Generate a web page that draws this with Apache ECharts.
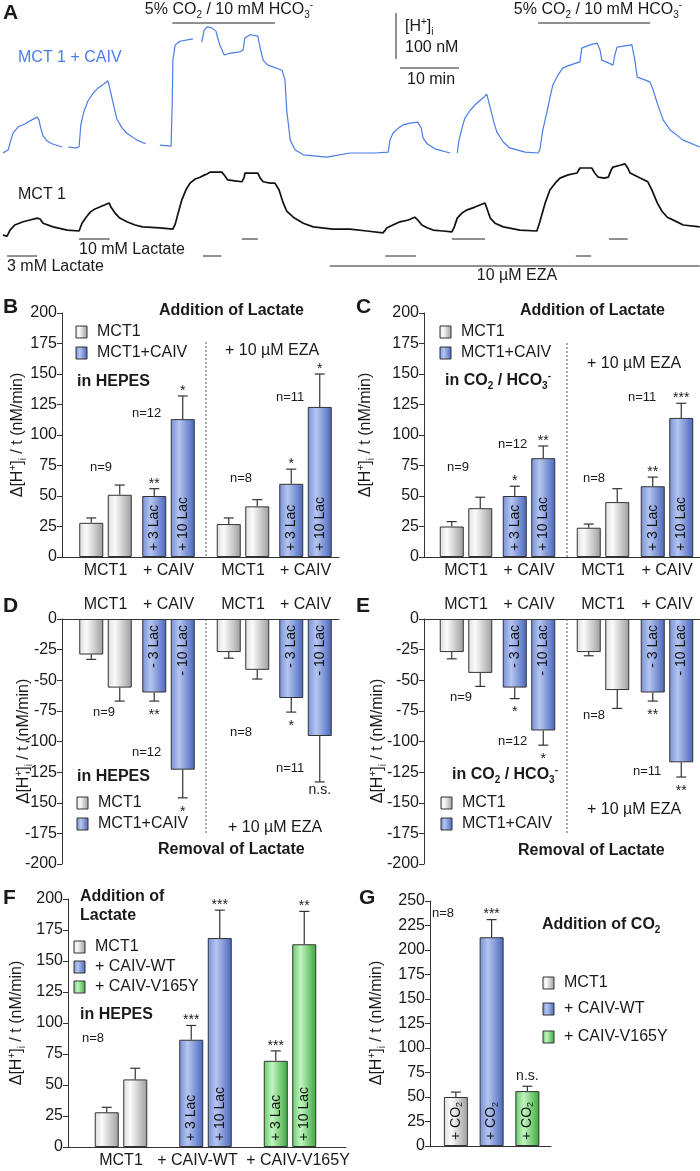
<!DOCTYPE html>
<html><head><meta charset="utf-8">
<script src="https://cdn.jsdelivr.net/npm/echarts/dist/echarts.min.js"></script>
<style>html,body{margin:0;padding:0;background:#fff}#c{width:700px;height:1171px}</style>
</head><body><div id="c"></div>
<script>
// ================= DATA =================
// Panel A traces: [time (min), Δ[H+]i (nM) relative to the trace's own baseline]; each inner array is a recorded segment
const traceCAIV = [
  [[0.5,0],[1.4,7],[1.7,22],[2.2,43],[3.1,57],[4.2,63],[5.4,72],[6.3,78],[6.6,72],[6.9,54],[7.3,37],[8.0,26],[8.8,20],[10.5,13]],
  [[11.5,13],[12.9,11],[13.4,13],[13.7,61],[14.2,89],[14.9,113],[15.8,130],[16.6,141],[17.6,150],[18.3,157],[18.6,141],[19.2,107],[19.8,74],[20.7,54],[21.5,43],[23.2,28],[24.7,20]],
  [[27.1,17],[29.0,15],[29.2,115],[29.3,202],[29.7,235],[30.5,243],[32.7,248]],
  [[34.2,241],[34.6,267],[35.1,274],[35.9,272],[36.6,265],[36.9,250],[37.3,233],[38.0,213],[39.0,217],[40.7,220],[41.2,224],[41.5,250],[42.4,257],[43.7,254],[44.1,228],[44.6,202],[45.4,191],[47.8,180],[48.3,159],[48.6,93],[49.2,28],[50.0,7],[51.4,-4],[55.4,-9],[59.3,0],[63.6,0],[65.8,2],[66.1,28],[66.6,43],[67.5,54],[68.3,61],[69.5,65],[70.8,67],[71.4,54],[71.7,33],[72.4,20],[73.7,9],[76.3,0]],
  [[77.5,0],[77.8,28],[78.3,54],[78.8,76],[79.7,93],[80.7,107],[81.9,120],[82.5,128],[83.1,98],[83.7,67],[84.2,46],[85.3,24],[86.4,11],[89.0,2],[91.2,0],[91.5,7],[92.0,50],[92.7,89],[93.2,120],[93.7,148],[94.6,170],[95.4,185],[96.6,191],[98.3,198],[98.6,228],[100.0,235],[101.2,239],[101.7,224],[102.0,202],[103.1,196],[103.9,191],[104.2,213],[104.6,230],[105.9,233],[107.1,235],[107.6,202],[108.0,165],[109.3,159],[110.2,154],[110.7,137],[111.5,104],[112.4,72],[113.6,50],[115.8,28],[118.6,13]]
];
const traceMCT1 = [
  [[0.5,-9],[1.2,-11],[1.7,2],[2.5,13],[3.9,20],[5.1,24],[6.3,28],[6.8,26],[7.3,17],[9.0,9],[11.4,2],[13.4,0],[13.6,4],[13.9,17],[14.6,30],[15.3,41],[16.1,48],[16.9,52],[17.8,57],[18.5,61],[18.8,52],[19.5,39],[20.3,28],[21.5,20],[22.9,13],[24.2,9],[27.1,7],[29.3,4],[29.7,15],[30.2,39],[30.8,67],[31.5,89],[32.2,104],[33.1,113],[33.9,117],[34.7,122],[35.1,124],[35.6,128],[36.9,128],[37.6,128],[38.1,120],[38.6,111],[39.8,109],[41.0,107],[41.4,117],[41.5,126],[42.7,126],[43.7,126],[44.1,115],[44.6,107],[45.8,104],[46.6,104],[47.3,89],[48.0,61],[48.6,43],[49.7,30],[51.4,17],[53.1,9],[56.4,4],[59.3,4],[62.2,0],[64.9,-4],[65.3,2],[65.6,7],[66.6,13],[67.8,20],[69.2,24],[70.3,30],[70.8,24],[71.5,13],[72.4,7],[73.4,2],[75.1,0],[76.6,-2],[77.0,9],[77.5,28],[78.3,39],[79.2,46],[80.5,52],[82.2,61],[82.5,50],[83.1,28],[83.9,17],[85.3,9],[88.1,2],[91.0,0],[91.5,20],[92.4,61],[93.2,89],[94.1,104],[94.9,115],[96.3,122],[97.8,126],[98.3,137],[99.3,137],[100.3,137],[100.8,126],[101.4,117],[102.4,115],[103.1,117],[103.6,133],[103.9,139],[105.1,143],[105.9,146],[106.4,137],[106.8,126],[108.5,115],[109.8,107],[110.5,89],[111.4,61],[112.2,43],[113.1,30],[114.4,22],[115.8,13],[118.6,9]]
];
// application periods [start, end] in min
const lactate3mM = [[1.2,6.3],[34.4,37.5],[65.3,70.5],[97.6,100.2]];
const lactate10mM = [[13.4,18.6],[41.0,43.7],[76.6,82.2],[103.2,106.4]];
const co2Periods = [[29.2,46.6],[91.2,110.2]];
const ezaPeriod = [[55.9,118.6]];
const scaleNM = 100, scaleMin = 10;

// Panels B–E: categories and rates Δ[H+]i/t (nM/min) for 3 mM / 10 mM lactate
const pairCats = ['MCT1', '+ CAIV'];
const addHepes3 = [28, 50],      addHepes3Err = [4, 6],        addHepes3Sig = ['', '**'];
const addHepes10 = [51, 113],    addHepes10Err = [8, 19],      addHepes10Sig = ['', '*'];
const addHepesEza3 = [27, 60],   addHepesEza3Err = [5, 12],    addHepesEza3Sig = ['', '*'];
const addHepesEza10 = [41.5, 123], addHepesEza10Err = [5.5, 27], addHepesEza10Sig = ['', '*'];
const addCo2_3 = [25, 50],       addCo2_3Err = [4, 8],         addCo2_3Sig = ['', '*'];
const addCo2_10 = [40, 81],      addCo2_10Err = [9, 10],       addCo2_10Sig = ['', '**'];
const addCo2Eza3 = [24, 58],     addCo2Eza3Err = [3, 7.5],     addCo2Eza3Sig = ['', '**'];
const addCo2Eza10 = [45, 114],   addCo2Eza10Err = [11, 12],    addCo2Eza10Sig = ['', '***'];
const remHepes3 = [-29, -60],    remHepes3Err = [4, 7],        remHepes3Sig = ['', '**'];
const remHepes10 = [-56, -123],  remHepes10Err = [11, 23],     remHepes10Sig = ['', '*'];
const remHepesEza3 = [-27, -64.5], remHepesEza3Err = [5, 11.5], remHepesEza3Sig = ['', '*'];
const remHepesEza10 = [-41.5, -95.5], remHepesEza10Err = [7.5, 37.5], remHepesEza10Sig = ['', 'n.s.'];
const remCo2_3 = [-27, -56],     remCo2_3Err = [5.5, 9],       remCo2_3Sig = ['', '*'];
const remCo2_10 = [-44, -91],    remCo2_10Err = [11, 12],      remCo2_10Sig = ['', '*'];
const remCo2Eza3 = [-27, -60],   remCo2Eza3Err = [3, 7],       remCo2Eza3Sig = ['', '**'];
const remCo2Eza10 = [-58, -117], remCo2Eza10Err = [15, 12],    remCo2Eza10Sig = ['', '**'];
const addLabels3 = ['', '+ 3 Lac'], addLabels10 = ['', '+ 10 Lac'];
const remLabels3 = ['', '- 3 Lac'], remLabels10 = ['', '- 10 Lac'];
// Panel F
const mutCats = ['MCT1', '+ CAIV-WT', '+ CAIV-V165Y'];
const mut3 = [28, 86.5, 69.5],     mut3Err = [4, 11.5, 8],      mut3Sig = ['', '***', '***'];
const mut10 = [54.5, 168.5, 163.5], mut10Err = [9, 22.5, 26.5], mut10Sig = ['', '***', '**'];
const mutLabels3 = ['', '+ 3 Lac', '+ 3 Lac'], mutLabels10 = ['', '+ 10 Lac', '+ 10 Lac'];
// Panel G
const co2Rate = [50, 213, 56], co2Err = [5, 18, 5], co2Sig = ['', '***', 'n.s.'];
const co2Labels = ['{t|+ CO}{s|2}', '{t|+ CO}{s|2}', '{t|+ CO}{s|2}'];
const yTicksPos = [0, 200], yTicksNeg = [-200, 0], yTicksG = [0, 250], yStep = 25;

// ================= STYLE / LAYOUT =================
const FONT = '"Liberation Sans", Arial, Helvetica, sans-serif';
const INK = '#1a1a1a', AXIS = '#333', TRACE_BLUE = '#4a7de6';
function grad(stops){ return new echarts.graphic.LinearGradient(0,0,1,0, stops.map(s=>({offset:s[0], color:s[1]}))); }
const FILL = {
  gray: grad([[0,'#dedede'],[0.3,'#fbfbfb'],[1,'#9d9d9d']]),
  blue: grad([[0,'#7690d8'],[0.35,'#b6c5ef'],[1,'#4866bd']]),
  green: grad([[0,'#66cc66'],[0.35,'#c2f4c2'],[1,'#3aa83a']])
};
const pairFills = ['gray','blue'], triFills = ['gray','blue','green'];
const F_LABEL_PAD = [[0,0,0,0],[0,16,0,0],[0,0,0,16]];
const BW = 24, GAP = 4.5;
const A = {left:0, top:0, width:700, height:290, pxPerMin:5.9, pxPerNM:0.46, caivBase:153, mct1Base:231,
           rows:{co2:23, lac10:239, lac3:256, eza:266}, scaleX:396, scaleTop:13, scaleHY:68, scaleHX:400};
const pxToMin = px => px / A.pxPerMin;
const pxToNM = py => (A.height - py) / A.pxPerNM;

const grids = [], xAxes = [], yAxes = [], series = [], graphics = [];

function addGrid(rect, xa, ya){
  grids.push(Object.assign({outerBoundsMode:'none', containLabel:false}, rect));
  const gi = grids.length - 1;
  xa.gridIndex = gi; ya.gridIndex = gi; xAxes.push(xa); yAxes.push(ya);
  return gi;
}
function frame(rect, yr, xTop){
  addGrid(rect,
    {type:'value', min:0, max:1, position: xTop ? 'top' : 'bottom',
     axisLine:{show:true, onZero:false, lineStyle:{color:AXIS, width:1}}, axisTick:{show:false}, axisLabel:{show:false}, splitLine:{show:false}},
    {type:'value', min:yr[0], max:yr[1], interval:yStep,
     axisLine:{show:true, onZero:false, lineStyle:{color:AXIS, width:1}}, axisTick:{show:true, length:5, lineStyle:{color:AXIS}},
     axisLabel:{fontSize:16, fontFamily:FONT, color:INK, margin:5}, splitLine:{show:false}});
}
function barGrid(rect, cats, yr, xTop, showLabels){
  return addGrid(rect,
    {type:'category', data:cats, position: xTop ? 'top' : 'bottom',
     axisLine:{show:false, onZero:false}, axisTick:{show:false},
     axisLabel:{show:showLabels !== false, interval:0, fontSize:16, fontFamily:FONT, color:INK, margin:6}, splitLine:{show:false}},
    {type:'value', min:yr[0], max:yr[1], show:false});
}
function errRender(offset, sigs){
  return function(params, api){
    const i = params.dataIndex, v = api.value(1), e = api.value(2);
    const dir = v >= 0 ? 1 : -1;
    const p0 = api.coord([i, v]), p1 = api.coord([i, v + dir * e]);
    const x = p0[0] + offset;
    const ch = [
      {type:'line', shape:{x1:x, y1:p0[1], x2:x, y2:p1[1]}, style:{stroke:AXIS, lineWidth:1.2}},
      {type:'line', shape:{x1:x-5, y1:p1[1], x2:x+5, y2:p1[1]}, style:{stroke:AXIS, lineWidth:1.2}}
    ];
    const s = sigs[i];
    if (s) {
      const star = s.indexOf('*') >= 0;
      const dy = dir > 0 ? (star ? -5 : -10) : (star ? 14 : 8);
      ch.push({type:'text', style:{text:s, x:x, y:p1[1] + dy, align:'center', verticalAlign:'middle', textAlign:'center', textVerticalAlign:'middle',
        font:'14px ' + FONT, fill:INK}});
    }
    return {type:'group', children:ch};
  };
}
function addBars(gi, sets, fills){
  const n = sets.length;
  sets.forEach((s, k) => {
    const neg = s.vals.some(v => v < 0);
    series.push({type:'bar', xAxisIndex:gi, yAxisIndex:gi, barWidth:BW, barGap:(GAP/BW*100)+'%', silent:true, animation:false,
      data: s.vals.map((v, i) => ({value:v,
        itemStyle:{color:FILL[fills[i]], borderColor:AXIS, borderWidth:1},
        label:{show: !!s.labels[i], formatter: s.labels[i] || '', rotate:90,
          position: neg ? 'insideTop' : 'insideBottom', align: neg ? 'right' : 'left', verticalAlign:'middle', distance:6,
          fontSize:14, fontFamily:FONT, color:'#111',
          rich:{t:{fontSize:14, fontFamily:FONT, color:'#111', lineHeight:16}, s:{fontSize:9, fontFamily:FONT, color:'#111', lineHeight:9, verticalAlign:'bottom'}}}
      }))});
    const off = (k - (n - 1) / 2) * (BW + GAP);
    series.push({type:'custom', xAxisIndex:gi, yAxisIndex:gi, silent:true, animation:false, z:5,
      renderItem: errRender(off, s.sig), data: s.vals.map((v, i) => [i, v, s.err[i]])});
  });
}

// ---------- Panel A ----------
addGrid({left:A.left, top:A.top, width:A.width, height:A.height},
  {type:'value', min:0, max:A.width / A.pxPerMin, show:false},
  {type:'value', min:0, max:A.height / A.pxPerNM, show:false});
function traceData(segs, basePx){
  const off = pxToNM(basePx), out = [];
  segs.forEach((seg, k) => {
    if (k) out.push([seg[0][0], '-']);
    seg.forEach(p => out.push([p[0], p[1] + off]));
  });
  return out;
}
function periodData(periods, rowPx){
  const y = pxToNM(rowPx), out = [];
  periods.forEach(p => { out.push([p[0], y], [p[1], y], [p[1], '-']); });
  return out;
}
const lineBase = {type:'line', xAxisIndex:0, yAxisIndex:0, symbol:'none', showSymbol:false, silent:true, animation:false, connectNulls:false};
series.push(Object.assign({}, lineBase, {data:traceData(traceCAIV, A.caivBase), lineStyle:{color:TRACE_BLUE, width:1.2}}));
series.push(Object.assign({}, lineBase, {data:traceData(traceMCT1, A.mct1Base), lineStyle:{color:'#111', width:1.7}}));
[[lactate3mM, A.rows.lac3], [lactate10mM, A.rows.lac10], [co2Periods, A.rows.co2], [ezaPeriod, A.rows.eza]].forEach(r => {
  series.push(Object.assign({}, lineBase, {data:periodData(r[0], r[1]), lineStyle:{color:'#222', width:1}}));
});
// scale bars
const sx = pxToMin(A.scaleX), sTop = pxToNM(A.scaleTop);
series.push(Object.assign({}, lineBase, {data:[[sx, sTop], [sx, sTop - scaleNM]], lineStyle:{color:'#222', width:1}}));
const hx = pxToMin(A.scaleHX), hy = pxToNM(A.scaleHY);
series.push(Object.assign({}, lineBase, {data:[[hx, hy], [hx + scaleMin, hy]], lineStyle:{color:'#222', width:1}}));

// ---------- Panels B–G ----------
frame({left:62, top:313, width:277, height:244}, yTicksPos, false);   // B
frame({left:424, top:313, width:276, height:244}, yTicksPos, false);  // C
frame({left:62, top:619, width:277, height:245}, yTicksNeg, true);    // D
frame({left:424, top:619, width:276, height:245}, yTicksNeg, true);   // E
frame({left:68, top:899, width:278, height:248}, yTicksPos, false);   // F
frame({left:430, top:901, width:121, height:245}, yTicksG, false);    // G

const halves = {
  BL:{left:74, top:313, width:126, height:244}, BR:{left:211.75, top:313, width:125, height:244},
  CL:{left:434.5, top:313, width:126, height:244}, CR:{left:571, top:313, width:128, height:244},
  DL:{left:74, top:619, width:126, height:245}, DR:{left:211.75, top:619, width:125, height:245},
  EL:{left:434.5, top:619, width:126, height:245}, ER:{left:571, top:619, width:128, height:245}
};
addBars(barGrid(halves.BL, pairCats, yTicksPos, false), [
  {vals:addHepes3, err:addHepes3Err, sig:addHepes3Sig, labels:addLabels3},
  {vals:addHepes10, err:addHepes10Err, sig:addHepes10Sig, labels:addLabels10}], pairFills);
addBars(barGrid(halves.BR, pairCats, yTicksPos, false), [
  {vals:addHepesEza3, err:addHepesEza3Err, sig:addHepesEza3Sig, labels:addLabels3},
  {vals:addHepesEza10, err:addHepesEza10Err, sig:addHepesEza10Sig, labels:addLabels10}], pairFills);
addBars(barGrid(halves.CL, pairCats, yTicksPos, false), [
  {vals:addCo2_3, err:addCo2_3Err, sig:addCo2_3Sig, labels:addLabels3},
  {vals:addCo2_10, err:addCo2_10Err, sig:addCo2_10Sig, labels:addLabels10}], pairFills);
addBars(barGrid(halves.CR, pairCats, yTicksPos, false), [
  {vals:addCo2Eza3, err:addCo2Eza3Err, sig:addCo2Eza3Sig, labels:addLabels3},
  {vals:addCo2Eza10, err:addCo2Eza10Err, sig:addCo2Eza10Sig, labels:addLabels10}], pairFills);
addBars(barGrid(halves.DL, pairCats, yTicksNeg, true), [
  {vals:remHepes3, err:remHepes3Err, sig:remHepes3Sig, labels:remLabels3},
  {vals:remHepes10, err:remHepes10Err, sig:remHepes10Sig, labels:remLabels10}], pairFills);
addBars(barGrid(halves.DR, pairCats, yTicksNeg, true), [
  {vals:remHepesEza3, err:remHepesEza3Err, sig:remHepesEza3Sig, labels:remLabels3},
  {vals:remHepesEza10, err:remHepesEza10Err, sig:remHepesEza10Sig, labels:remLabels10}], pairFills);
addBars(barGrid(halves.EL, pairCats, yTicksNeg, true), [
  {vals:remCo2_3, err:remCo2_3Err, sig:remCo2_3Sig, labels:remLabels3},
  {vals:remCo2_10, err:remCo2_10Err, sig:remCo2_10Sig, labels:remLabels10}], pairFills);
addBars(barGrid(halves.ER, pairCats, yTicksNeg, true), [
  {vals:remCo2Eza3, err:remCo2Eza3Err, sig:remCo2Eza3Sig, labels:remLabels3},
  {vals:remCo2Eza10, err:remCo2Eza10Err, sig:remCo2Eza10Sig, labels:remLabels10}], pairFills);
const fCats = mutCats.map((c, i) => ({value:c, textStyle:{padding:F_LABEL_PAD[i]}}));
addBars(barGrid({left:78.75, top:899, width:253.5, height:248}, fCats, yTicksPos, false), [
  {vals:mut3, err:mut3Err, sig:mut3Sig, labels:mutLabels3},
  {vals:mut10, err:mut10Err, sig:mut10Sig, labels:mutLabels10}], triFills);
addBars(barGrid({left:438, top:901, width:107.25, height:245}, mutCats, yTicksG, false, false), [
  {vals:co2Rate, err:co2Err, sig:co2Sig, labels:co2Labels}], triFills);

// ---------- text / decorations ----------
function richSet(size, bold, color){
  const b = {fontSize:size, fontFamily:FONT, fontWeight: bold ? 'bold' : 'normal', fill:color, lineHeight:size + 4};
  return {a:b,
    sup:{fontSize:Math.round(size*0.62), fontFamily:FONT, fontWeight:b.fontWeight, fill:color, lineHeight:10, verticalAlign:'top'},
    sub:{fontSize:Math.round(size*0.62), fontFamily:FONT, fontWeight:b.fontWeight, fill:color, lineHeight:10, verticalAlign:'bottom'}};
}
function txt(x, y, text, o){
  o = o || {};
  const size = o.size || 16, color = o.color || INK;
  const st = {text:text, x:0, y:0, font:(o.bold ? 'bold ' : '') + size + 'px ' + FONT, fill:color,
    align:o.align || 'left', textAlign:o.align || 'left', verticalAlign:'middle', textVerticalAlign:'middle'};
  if (o.rich) st.rich = richSet(size, o.bold, color);
  graphics.push({type:'text', x:x, y:y, rotation:o.rot || 0, z:100, silent:true, style:st});
}
function legendItem(x, y, fill, label){
  graphics.push({type:'rect', shape:{x:x, y:y - 6, width:11, height:12}, z:100, silent:true,
    style:{fill:FILL[fill], stroke:AXIS, lineWidth:1}});
  txt(x + 21, y, label);
}
function dashed(x, y1, y2){
  graphics.push({type:'line', shape:{x1:x, y1:y1, x2:x, y2:y2}, z:100, silent:true,
    style:{stroke:'#555', lineWidth:1, lineDash:[2, 2]}});
}
const CO2TXT = '{a|5% CO}{sub|2}{a| / 10 mM HCO}{sub|3}{sup|-}';
const YNAME = '{a|Δ[H}{sup|+}{a|]}{sub|i}{a| / t (nM/min)}';
const INCO2 = '{a|in CO}{sub|2}{a| / HCO}{sub|3}{sup|-}';
// panel letters
[['A',3,13],['B',3,307],['C',356,307],['D',3,606],['E',356,606],['F',3,898],['G',359,898]].forEach(l => txt(l[1], l[2], l[0], {bold:true, size:21}));
// Panel A
txt(229, 10, CO2TXT, {rich:true, align:'center'});
txt(598, 10, CO2TXT, {rich:true, align:'center'});
txt(18, 58, 'MCT 1 + CAIV', {color:TRACE_BLUE});
txt(405, 27, '{a|[H}{sup|+}{a|]}{sub|i}', {rich:true});
txt(405, 48, '100 nM');
txt(407, 80, '10 min');
txt(18, 195, 'MCT 1');
txt(79, 250, '10 mM Lactate');
txt(7, 267, '3 mM Lactate');
txt(517, 276, '10 µM EZA', {align:'center'});
// y names
[[18,435],[366,435],[24,741],[378,741],[17,1023],[377,1023]].forEach(p => txt(p[0], p[1], YNAME, {rich:true, align:'center', rot:Math.PI/2}));
// B
txt(159, 311, 'Addition of Lactate', {bold:true});
txt(77, 382, 'in HEPES', {bold:true});
txt(225, 351, '+ 10 µM EZA');
legendItem(76, 332, 'gray', 'MCT1'); legendItem(76, 353, 'blue', 'MCT1+CAIV');
dashed(206, 342, 557);
// C
txt(520, 311, 'Addition of Lactate', {bold:true});
txt(445, 381, INCO2, {bold:true, rich:true});
txt(587, 364, '+ 10 µM EZA');
legendItem(440, 332, 'gray', 'MCT1'); legendItem(440, 353, 'blue', 'MCT1+CAIV');
dashed(567, 343, 557);
// D
txt(77, 777, 'in HEPES', {bold:true});
txt(228, 828, '+ 10 µM EZA');
txt(158, 850, 'Removal of Lactate', {bold:true});
legendItem(77, 803, 'gray', 'MCT1'); legendItem(77, 824, 'blue', 'MCT1+CAIV');
dashed(206, 619, 833);
// E
txt(452, 775, INCO2, {bold:true, rich:true});
txt(587, 810, '+ 10 µM EZA');
txt(518, 851, 'Removal of Lactate', {bold:true});
legendItem(441, 803, 'gray', 'MCT1'); legendItem(441, 824, 'blue', 'MCT1+CAIV');
dashed(567, 619, 833);
// F
txt(80, 897, 'Addition of', {bold:true});
txt(80, 916, 'Lactate', {bold:true});
txt(80, 1015, 'in HEPES', {bold:true});
legendItem(74, 947, 'gray', 'MCT1'); legendItem(74, 967, 'blue', '+ CAIV-WT'); legendItem(74, 987, 'green', '+ CAIV-V165Y');
// G
txt(542, 925, '{a|Addition of CO}{sub|2}', {bold:true, rich:true});
legendItem(543, 983, 'gray', 'MCT1'); legendItem(543, 1009, 'blue', '+ CAIV-WT'); legendItem(543, 1037, 'green', '+ CAIV-V165Y');
// n labels
[['n=9',90,467],['n=12',132,413],['n=8',230,478],['n=11',276,397],
 ['n=9',447,467],['n=12',498,444],['n=8',583,478],['n=11',628,397],
 ['n=9',93,712],['n=12',132,752],['n=8',230,732],['n=11',276,768],
 ['n=9',450,697],['n=12',498,741],['n=8',583,715],['n=11',633,771],
 ['n=8',82,1038],['n=8',432,913]].forEach(n => txt(n[1], n[2], n[0], {size:13}));

const chart = echarts.init(document.getElementById('c'), null, {renderer:'canvas'});
chart.setOption({
  backgroundColor:'#ffffff', animation:false,
  grid:grids, xAxis:xAxes, yAxis:yAxes, series:series, graphic:{elements:graphics}
});
</script></body></html>
